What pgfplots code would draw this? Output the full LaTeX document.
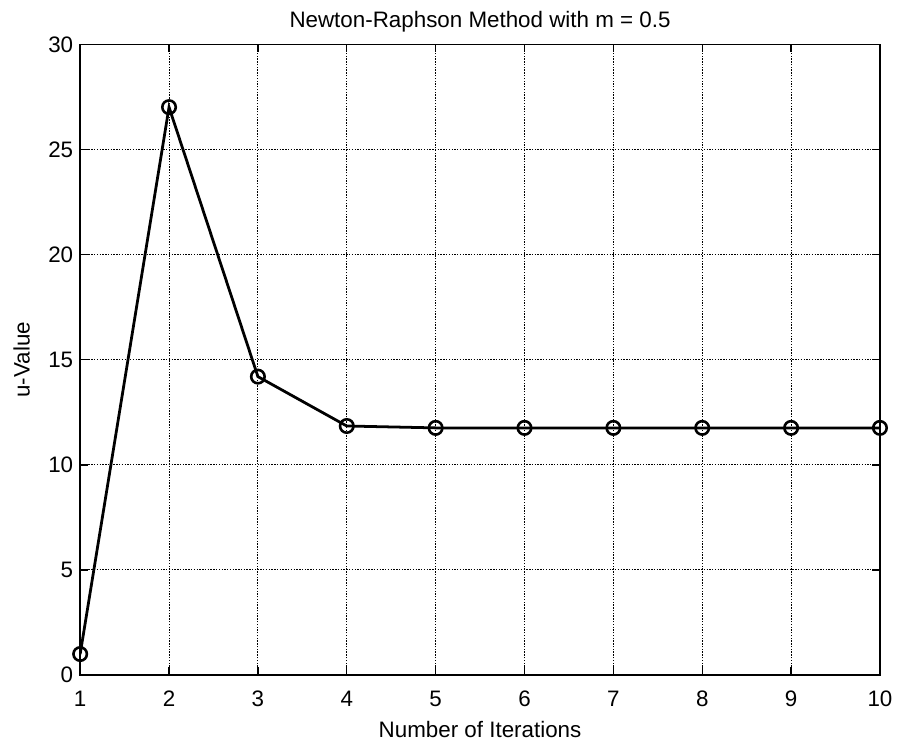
\documentclass[border=0pt]{standalone}
\usepackage{fontspec}
\setmainfont{Liberation Sans}
\usepackage{pgfplots}
\pgfplotsset{compat=1.18}
\usetikzlibrary{calc}
\begin{document}
\begin{tikzpicture}
\begin{axis}[
  name=ax,
  scale only axis,
  width=404pt, height=318.5pt,
  xmin=1, xmax=10, ymin=0, ymax=30,
  xtick={1,...,10}, ytick={0,5,...,30},
  tick align=inside,
  major tick length=4pt,
  axis line style={line width=0.9pt},
  tick style={black, line width=0.7pt},
  grid=major,
  grid style={black, line width=0.5pt, dash pattern=on 0.7pt off 0.7pt},
  title={Newton-Raphson Method with m = 0.5},
  xlabel={Number of Iterations},
  ylabel={u-Value},
  title style={font=\fontsize{11.3}{13}\selectfont, yshift=-3.5pt},
  label style={font=\fontsize{11.3}{13}\selectfont},
  xlabel style={yshift=-0.5pt},
  ylabel style={yshift=2.5pt},
  tick label style={font=\fontsize{11.3}{13}\selectfont},
  xticklabel style={yshift=-4.5pt},
  /pgf/number format/assume math mode=true,
]
\addplot[black, line width=1.4pt, mark=o, mark size=3.4pt, mark options={line width=1.3pt}]
  coordinates {(1,1) (2,27.02) (3,14.2) (4,11.85) (5,11.76) (6,11.76) (7,11.76) (8,11.76) (9,11.76) (10,11.76)};
\end{axis}
\path (ax.south west) ++(-40.5pt,-32.5pt) rectangle ($(ax.north east)+(7pt,22.5pt)$);
\end{tikzpicture}
\end{document}
